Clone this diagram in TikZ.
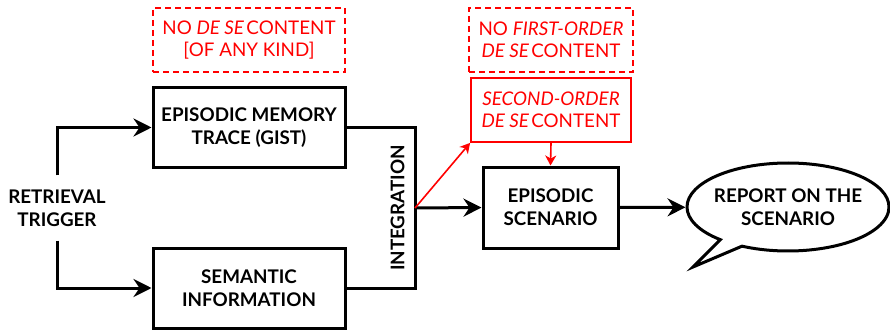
\documentclass[tikz,border=0pt]{standalone}
\usepackage{fontspec}
\setmainfont{Lato}
\usetikzlibrary{arrows.meta,shapes.callouts}

% tighter gap after an italic phrase
\newcommand{\itgap}{\hspace{0.12em}}

\tikzset{
  blk/.style={draw=black, line width=3pt, minimum width=192pt, minimum height=80pt,
              inner sep=0pt, align=center, font=\bfseries\fontsize{18.8}{23}\selectfont},
  note/.style={draw=red, line width=1.8pt, minimum height=64pt, inner sep=0pt,
               align=center, text=red, font=\fontsize{18.8}{22}\selectfont},
  dashnote/.style={note, dash pattern=on 6pt off 4pt},
  flow/.style={line width=3pt, line join=miter,
               -{Stealth[length=18pt, width=18pt, inset=6pt]}},
  redflow/.style={draw=red, line width=1.6pt,
                  -{Stealth[length=10pt, width=11pt, inset=3pt]}},
  label/.style={inner sep=0pt, align=center, font=\bfseries\fontsize{18.8}{23}\selectfont}
}

\begin{document}
\begin{tikzpicture}[x=1pt, y=-1pt]
  \useasboundingbox (0,0) rectangle (890,331);

  % main boxes
  \node[blk] (trace) at (249,127.5) {EPISODIC MEMORY\\TRACE (GIST)};
  \node[blk] (semantic) at (249,288) {SEMANTIC\\INFORMATION};
  \node[blk, minimum width=135pt, minimum height=81pt] (scenario) at (550.5,207.5)
        {EPISODIC\\SCENARIO};

  % red annotations
  \node[dashnote, minimum width=192pt] (nodese) at (249,40)
        {NO \textit{DE SE}\itgap CONTENT\\{[}OF ANY KIND{]}};
  \node[dashnote, minimum width=164pt] (nofirst) at (551,40)
        {NO \textit{FIRST-ORDER}\\\textit{DE SE}\itgap CONTENT};
  \node[note, minimum width=160pt] (second) at (551,110)
        {\textit{SECOND-ORDER}\\\textit{DE SE}\itgap CONTENT};

  % retrieval trigger
  \node[label, inner ysep=14pt] (trigger) at (57,208) {RETRIEVAL\\TRIGGER};

  % speech bubble
  \node[ellipse callout, draw=black, line width=3pt, fill=white,
        minimum width=202pt, minimum height=88pt, inner xsep=-6pt, inner ysep=0pt,
        callout absolute pointer={(693,267)}, callout pointer arc=15,
        align=center, font=\bfseries\fontsize{18.8}{23}\selectfont]
        (report) at (788,207) {REPORT ON THE\\SCENARIO};

  % integration bracket
  \coordinate (join) at (415,208);
  \draw[line width=3pt, line join=miter] (trace.east) -| (join) |- (semantic.east);
  \node[label, rotate=90] (integ) at (397.5,208) {INTEGRATION};

  % connectors
  \draw[flow] (trigger.north) |- (trace.west);
  \draw[flow] (trigger.south) |- (semantic.west);
  \draw[flow] (join) -- (scenario.west);
  \draw[flow] (scenario.east) -- (report);
  \draw[redflow] (join) -- (second.south west);
  \draw[redflow] (second.south) -- (scenario.north);
\end{tikzpicture}
\end{document}
